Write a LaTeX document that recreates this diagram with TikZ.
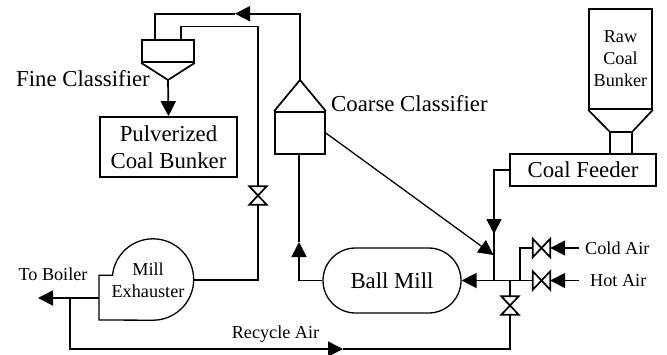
\documentclass[tikz,border=0pt]{standalone}
\usepackage{fontspec}
\setmainfont{Liberation Serif}
\usetikzlibrary{arrows.meta,calc,positioning,shapes.misc}
\tikzset{
  pipe/.style={line width=1.7pt},
  thinpipe/.style={line width=1.3pt},
  pipearrow/.style={pipe,-{Triangle[length=15pt,width=15pt]}},
  unitbox/.style={draw,line width=1.7pt,inner sep=0pt,align=center},
  biglabel/.style={font=\fontsize{22.8}{27}\selectfont,align=center,inner sep=0pt},
  smalllabel/.style={font=\fontsize{18.2}{22}\selectfont,align=center,inner sep=0pt},
  valvebox/.style={inner sep=0pt,minimum width=17pt,minimum height=18pt},
}
\newcommand{\valveup}[2]{%
  \node[valvebox] (#1) at (#2) {};
  \draw[pipe] (#1.north west) -- (#1.north east) -- (#1.south west)
    -- (#1.south east) -- cycle;
}
\newcommand{\valveside}[2]{%
  \node[valvebox] (#1) at (#2) {};
  \draw[pipe] (#1.north west) -- (#1.south west) -- (#1.north east)
    -- (#1.south east) -- cycle;
}
\begin{document}
\begin{tikzpicture}[x=1pt,y=-1pt]
    \useasboundingbox (0,0) rectangle (667,354);
    % fine classifier and pulverized coal
    \node[unitbox,minimum width=52pt,minimum height=22pt] (fineclass) at (168,51) {};
    \coordinate (finetip) at (168,80);
    \draw[pipe] (fineclass.south west) -- (finetip) -- (fineclass.south east);
    \node[biglabel,anchor=east] (finelabel) at (150,79) {Fine Classifier};
    \node[unitbox,biglabel,draw,minimum width=137pt,minimum height=60pt] (pulverized) at (168.5,147)
      {Pulverized\\Coal Bunker};
    \draw[pipearrow] (finetip) -- (pulverized.north);
    % coarse classifier
    \node[unitbox,minimum width=50pt,minimum height=42pt] (coarseclass) at (300,133) {};
    \coordinate (coarsetip) at (300,80);
    \draw[pipe] (coarseclass.north west) -- (coarsetip) -- (coarseclass.north east);
    \node[biglabel,anchor=west] (coarselabel) at (331,104) {Coarse Classifier};
    % raw coal side
    \node[unitbox,smalllabel,draw,minimum width=63pt,minimum height=100pt] (rawbunker) at (620.5,59)
      {Raw\\Coal\\Bunker};
    \node[unitbox,minimum width=22pt,minimum height=22pt] (neck) at (621,143) {};
    \draw[pipe] (rawbunker.south west) -- (neck.north west);
    \draw[pipe] (rawbunker.south east) -- (neck.north east);
    \node[unitbox,biglabel,draw,minimum width=146pt,minimum height=32pt] (feeder) at (583,170) {Coal Feeder};
    % mills
    \node[unitbox,biglabel,draw,thinpipe,rounded rectangle,minimum width=138pt,minimum height=65pt] (ballmill) at (392,280.5) {Ball Mill};
    \coordinate (exright) at (193.7,280);
    \coordinate (exouter) at (99,298);
    \draw[thinpipe] (99,275.25) -- (112.5,275.25) arc[start angle=174,end angle=-90,radius=40.7pt]
      -- (99,320) -- cycle;
    \node[smalllabel] (exhauster) at (148,280) {Mill\\Exhauster};
    % valves
    \valveup{exvalve}{258,195.5}
    \valveup{recyclevalve}{510,305.5}
    \valveside{coldvalve}{541.5,248}
    \valveside{hotvalve}{541.5,280.5}
    % top lines
    \coordinate (topturn) at (235,13.7);
    \coordinate (finein) at (155,40);
    \coordinate (fineout) at (181,40);
    \draw[pipearrow] (coarsetip) |- (topturn);
    \draw[pipe] (topturn) -| (finein);
    \draw[pipe] (fineout) |- (258,26.5) -- (exvalve.north);
    \draw[pipe] (exvalve.south) |- (exright);
    % ball mill return
    \coordinate (coarsebase) at (299,154);
    \coordinate (coarsearrow) at (299,242);
    \draw[pipearrow] (299,280.5) -- (coarsearrow);
    \draw[pipe] (coarsearrow) -- (coarsebase);
    \draw[pipe] (299,280.5) -- (ballmill.west);
    % inlet lines
    \coordinate (junction) at (494,280.5);
    \coordinate (coalarrow) at (494,234);
    \draw[pipe] (feeder.west) -- (494,170) -- (coalarrow);
    \draw[pipearrow] (494,200) -- (coalarrow);
    \draw[pipe] (coalarrow) -- (junction);
    \draw[thinpipe,-{Triangle[length=15pt,width=15pt]}] (coarseclass.east) -- (493.5,255);
    \draw[pipearrow] (hotvalve.west) -- (ballmill.east);
    \coordinate (coldbranch) at (520,280.5);
    \draw[pipe] (coldbranch) |- (coldvalve.west);
    \coordinate (coldend) at (579,248);
    \coordinate (hotend) at (579,280.5);
    \draw[pipearrow] (coldend) -- (coldvalve.east);
    \draw[pipearrow] (hotend) -- (hotvalve.east);
    \node[smalllabel,anchor=west] (coldlabel) at (585,248) {Cold Air};
    \node[smalllabel,anchor=west] (hotlabel) at (590,280.5) {Hot Air};
    % exhaust and recycle
    \coordinate (boilerend) at (38,298);
    \coordinate (recycleturn) at (70,298);
    \coordinate (recyclearrow) at (343,349);
    \draw[pipearrow] (exouter) -- (boilerend);
    \draw[pipearrow] (recycleturn) |- (recyclearrow);
    \draw[pipe] (recyclearrow) -| (recyclevalve.south);
    \draw[pipe] (recyclevalve.north) -- (510,280.5);
    \node[smalllabel] (tolabel) at (53,274) {To Boiler};
    \node[smalllabel] (recyclelabel) at (275.5,334.5) {Recycle Air};
  \end{tikzpicture}
\end{document}
